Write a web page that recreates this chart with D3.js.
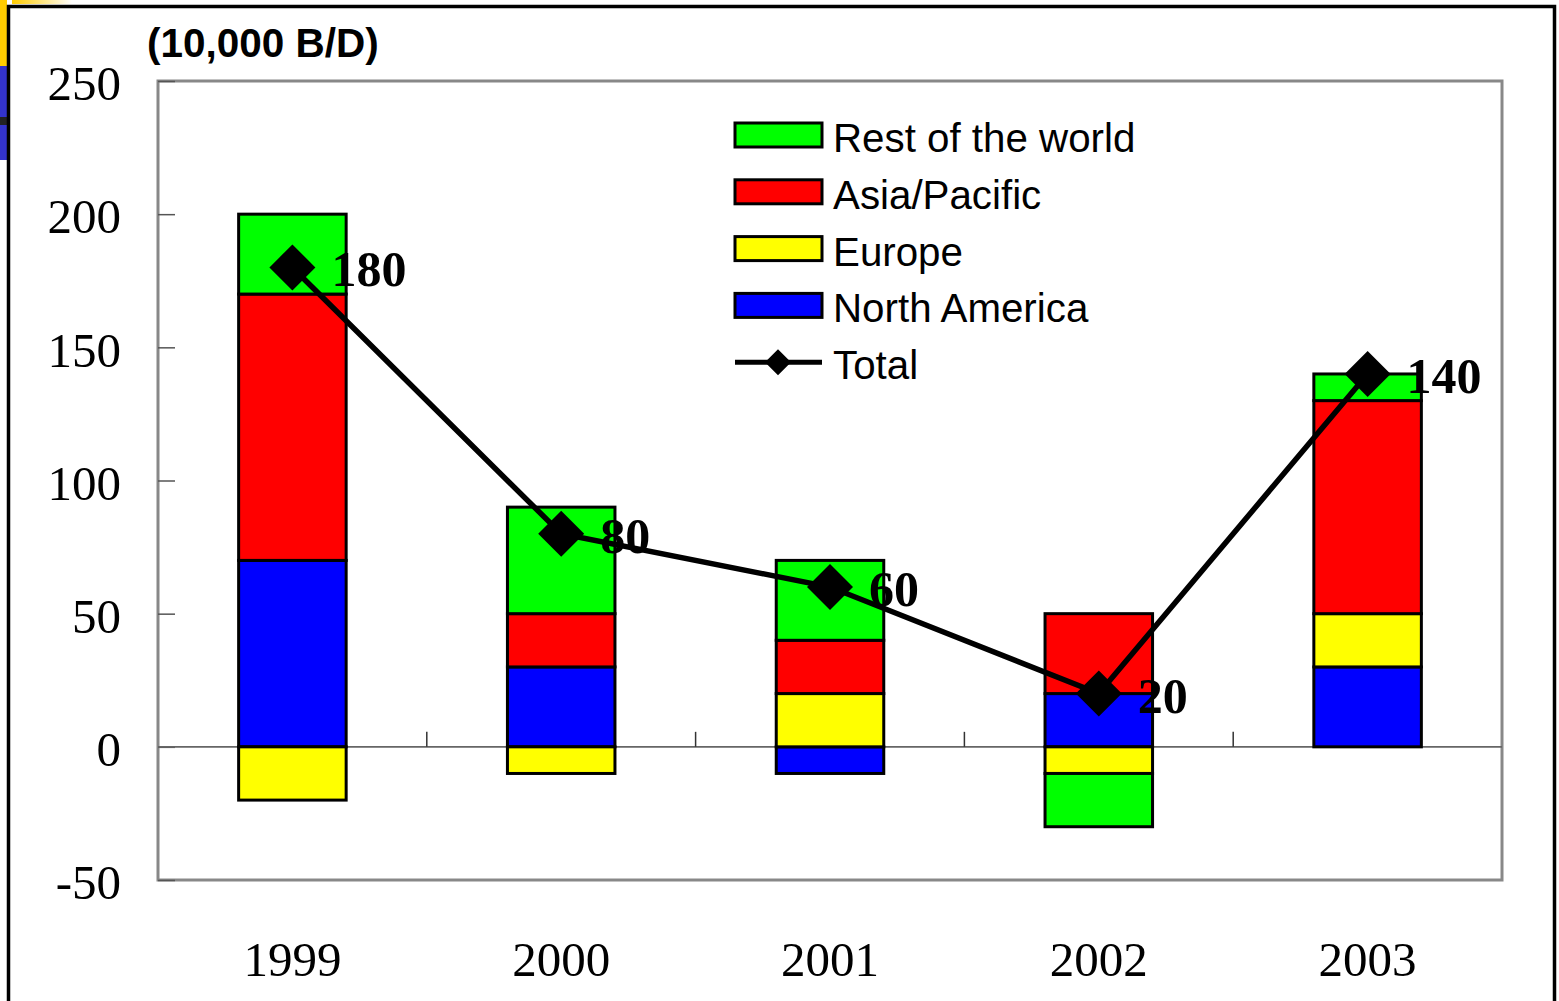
<!DOCTYPE html>
<html><head><meta charset="utf-8">
<script src="https://cdn.jsdelivr.net/npm/d3@7"></script>
<style>html,body{margin:0;padding:0;background:#fff;}svg{display:block;}</style>
</head><body>
<svg id="c" width="1559" height="1001"></svg>
<script>
const years = ["1999","2000","2001","2002","2003"];
const northAmerica = [70, 30, -10, 20, 30];
const europe = [-20, -10, 20, -10, 20];
const asiaPacific = [100, 20, 20, 30, 80];
const restOfWorld = [30, 40, 30, -20, 10];
const total = [180, 80, 60, 20, 140];
const yTicks = [-50, 0, 50, 100, 150, 200, 250];
const seriesNames = ["North America", "Europe", "Asia/Pacific", "Rest of the world"];
const seriesColors = ["#0000ff", "#ffff00", "#ff0000", "#00ff00"];
const legendOrder = ["Rest of the world", "Asia/Pacific", "Europe", "North America"];
const unitLabel = "(10,000 B/D)";

const svg = d3.select("#c");
// decorative slide edge
svg.append("rect").attr("x",0).attr("y",0).attr("width",7).attr("height",66).attr("fill","#ffcc00");
svg.append("rect").attr("x",0).attr("y",66).attr("width",7).attr("height",94).attr("fill","#3333cc");
svg.append("rect").attr("x",0).attr("y",117).attr("width",7).attr("height",8).attr("fill","#222");
const grad = svg.append("defs").append("linearGradient").attr("id","tg");
grad.append("stop").attr("offset","0").attr("stop-color","#ffcc00");
grad.append("stop").attr("offset","1").attr("stop-color","#ffffff");
svg.append("rect").attr("x",12).attr("y",0).attr("width",60).attr("height",4).attr("fill","url(#tg)");
// outer frame
svg.append("path").attr("d","M8.5,1010 V6.5 H1554.5 V1010").attr("fill","none").attr("stroke","#000").attr("stroke-width",3.5);

const L = 158, R = 1502, T = 81, B = 880;
const x = d3.scaleBand().domain(years).range([L, R]).paddingInner(0).paddingOuter(0);
const y = d3.scaleLinear().domain([-50, 250]).range([B, T]);

const g = svg.append("g");
// plot border
g.append("rect").attr("x",L).attr("y",T).attr("width",R-L).attr("height",B-T)
  .attr("fill","none").attr("stroke","#888").attr("stroke-width",3);

// y axis ticks inside
const yAx = d3.axisRight(y).tickValues(yTicks).tickSize(17).tickFormat("");
const ya = g.append("g").attr("transform",`translate(${L},0)`).call(yAx);
ya.select(".domain").remove();
ya.selectAll("line").attr("stroke","#555").attr("stroke-width",1.5);
// y labels
g.selectAll(".ylab").data(yTicks).enter().append("text")
  .attr("x",121).attr("y",d=>y(d)+3).attr("dy","0.33em").attr("text-anchor","end")
  .attr("font-family","'Liberation Serif','Times New Roman',serif").attr("font-size",49)
  .text(d=>d);

// zero line
g.append("line").attr("x1",L).attr("x2",R).attr("y1",y(0)).attr("y2",y(0)).attr("stroke","#666").attr("stroke-width",1.8);
// category boundary ticks
const bounds = years.slice(1).map(d=>x(d));
g.selectAll(".xt").data(bounds).enter().append("line")
  .attr("x1",d=>d).attr("x2",d=>d).attr("y1",y(0)).attr("y2",y(0)-15)
  .attr("stroke","#333").attr("stroke-width",1.5);

// x labels
g.selectAll(".xlab").data(years).enter().append("text")
  .attr("x",d=>x(d)+x.bandwidth()/2).attr("y",976).attr("text-anchor","middle")
  .attr("font-family","'Liberation Serif','Times New Roman',serif").attr("font-size",49)
  .text(d=>d);

// stacked bars
const rows = years.map((yr,i)=>({year:yr, "North America":northAmerica[i], "Europe":europe[i], "Asia/Pacific":asiaPacific[i], "Rest of the world":restOfWorld[i]}));
const stack = d3.stack().keys(seriesNames).offset(d3.stackOffsetDiverging)(rows);
const bw = x.bandwidth()*0.4;
stack.forEach((s,si)=>{
  g.selectAll(".b"+si).data(s).enter().append("rect")
    .attr("x",d=>x(d.data.year)+x.bandwidth()/2-bw/2)
    .attr("width",bw)
    .attr("y",d=>y(Math.max(d[0],d[1])))
    .attr("height",d=>Math.abs(y(d[0])-y(d[1])))
    .attr("fill",seriesColors[si]).attr("stroke","#000").attr("stroke-width",3);
});

// total line
const cx = d=>x(d)+x.bandwidth()/2;
const line = d3.line().x((d,i)=>cx(years[i])).y(d=>y(d));
g.append("path").datum(total).attr("d",line).attr("fill","none").attr("stroke","#000").attr("stroke-width",5.5);
const dsz = 23;
g.selectAll(".dm").data(total).enter().append("path")
  .attr("d",(d,i)=>{const px=cx(years[i]),py=y(d);return `M${px},${py-dsz}L${px+dsz},${py}L${px},${py+dsz}L${px-dsz},${py}Z`;})
  .attr("fill","#000");
g.selectAll(".vl").data(total).enter().append("text")
  .attr("x",(d,i)=>cx(years[i])+39).attr("y",d=>y(d)+19)
  .attr("font-family","'Liberation Serif','Times New Roman',serif").attr("font-weight","bold").attr("font-size",50)
  .text(d=>d);

// unit label
svg.append("text").attr("x",147).attr("y",57).attr("font-family","'Liberation Sans',Arial,sans-serif")
  .attr("font-weight","bold").attr("font-size",40.5).text(unitLabel);

// legend
const lg = svg.append("g");
const rowH = 56.8, ly0 = 135;
legendOrder.forEach((name,i)=>{
  const cy = ly0 + i*rowH;
  lg.append("rect").attr("x",735).attr("y",cy-12).attr("width",87).attr("height",24)
    .attr("fill",seriesColors[seriesNames.indexOf(name)]).attr("stroke","#000").attr("stroke-width",3);
  lg.append("text").attr("x",833).attr("y",cy+17).attr("font-family","'Liberation Sans',Arial,sans-serif")
    .attr("font-size",40.3).text(name);
});
{
  const cy = ly0 + 4*rowH;
  lg.append("line").attr("x1",735).attr("x2",822).attr("y1",cy).attr("y2",cy).attr("stroke","#000").attr("stroke-width",5);
  const px = 778, s = 13;
  lg.append("path").attr("d",`M${px},${cy-s}L${px+s},${cy}L${px},${cy+s}L${px-s},${cy}Z`).attr("fill","#000");
  lg.append("text").attr("x",833).attr("y",cy+17).attr("font-family","'Liberation Sans',Arial,sans-serif")
    .attr("font-size",40.3).text("Total");
}
</script>
</body></html>
